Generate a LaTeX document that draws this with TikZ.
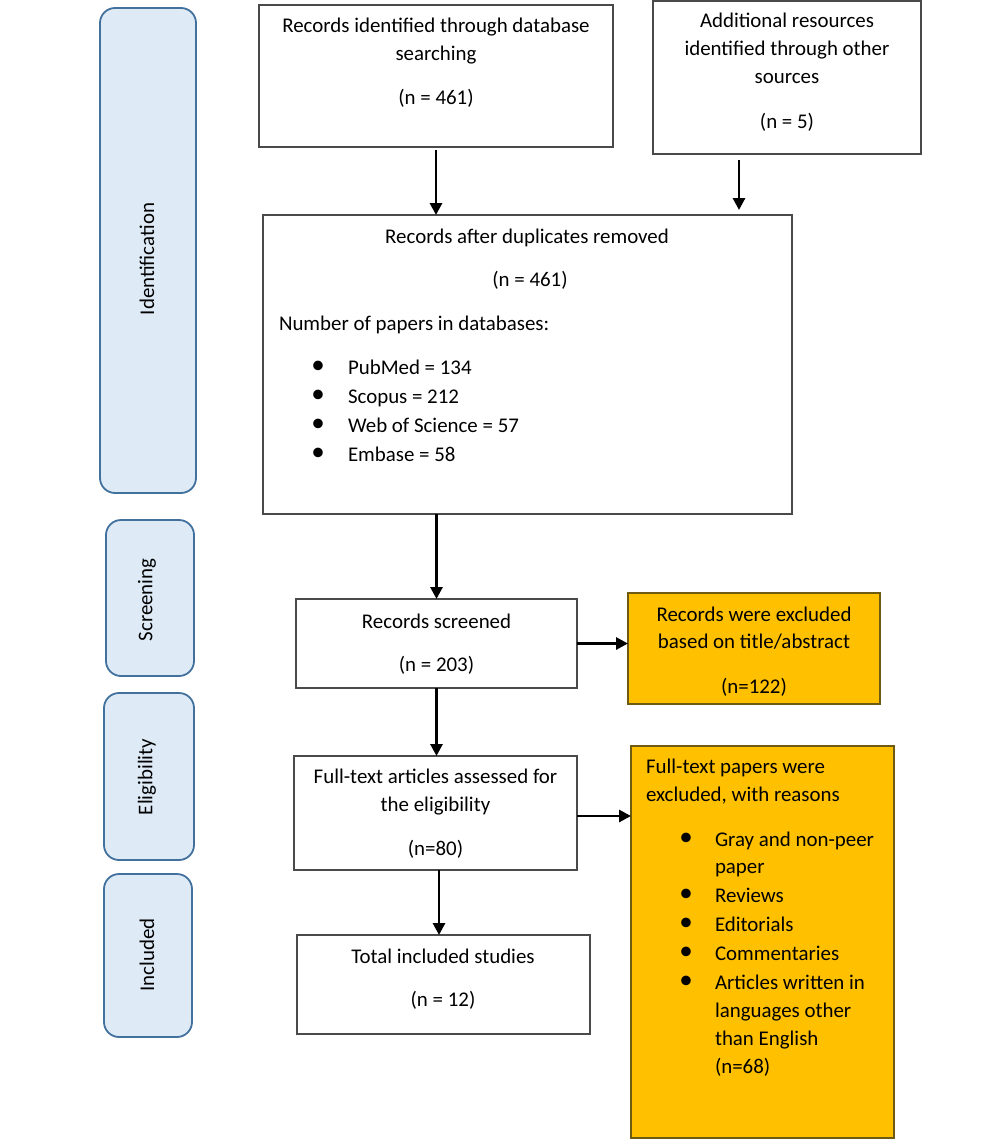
\documentclass[tikz,border=0pt]{standalone}
\usepackage{fontspec}
\setmainfont{Carlito}
\usetikzlibrary{arrows.meta,calc}
\definecolor{sidefill}{HTML}{DEEBF7}
\definecolor{sidedraw}{HTML}{41719C}
\definecolor{boxdraw}{HTML}{4A4A4A}
\definecolor{yfill}{HTML}{FFC000}
\definecolor{ydraw}{HTML}{6E5A10}
\newcommand{\fs}{\fontsize{20.9}{28}\selectfont}
\newcommand{\bul}{{\fontsize{27}{28}\selectfont\textbullet}}
\tikzset{
  sidebox/.style={draw=sidedraw, fill=sidefill, line width=1.8pt, rounded corners=15pt, inner sep=0, outer sep=0},
  wbox/.style={draw=boxdraw, fill=white, line width=1.4pt, inner sep=0, outer sep=0},
  ybox/.style={draw=ydraw, fill=yfill, line width=1.4pt, inner sep=0, outer sep=0},
  txt/.style={inner sep=0, outer sep=0, anchor=base, font=\fs},
  ltxt/.style={inner sep=0, outer sep=0, anchor=base west, font=\fs},
  bl/.style={inner sep=0, outer sep=0, anchor=center},
  sidetxt/.style={inner sep=0, rotate=90, font=\fs},
  arr/.style={line width=2.9pt, -{Triangle[length=12pt,width=12pt]}}
}
\begin{document}
\begin{tikzpicture}[x=1pt,y=-1pt]
\useasboundingbox[fill=white] (0,0) rectangle (1000,1140);
% side boxes
\node[sidebox, minimum width=96pt, minimum height=485pt] (sid) at (148,250.5) {};
\node[sidetxt] (sidt) at (147,259) {Identification};
\node[sidebox, minimum width=88pt, minimum height=156pt] (sscr) at (150,598) {};
\node[sidetxt] (sscrt) at (147,600) {Screening};
\node[sidebox, minimum width=90pt, minimum height=167pt] (selg) at (149,776.5) {};
\node[sidetxt] (selgt) at (147,777) {Eligibility};
\node[sidebox, minimum width=88pt, minimum height=163pt] (sinc) at (148,955.5) {};
\node[sidetxt] (sinct) at (147,955) {Included};
% main boxes
\node[wbox, minimum width=354pt, minimum height=142pt] (b1) at (436,76) {};
\node[txt] (b1a) at (436,33) {Records identified through database};
\node[txt] (b1b) at (436,61) {searching};
\node[txt] (b1c) at (436,104) {(n = 461)};
\node[wbox, minimum width=268pt, minimum height=153pt] (b2) at (787,77.5) {};
\node[txt] (b2a) at (787,28) {Additional resources};
\node[txt] (b2b) at (787,56) {identified through other};
\node[txt] (b2c) at (787,83) {sources};
\node[txt] (b2d) at (787,128) {(n = 5)};
\node[wbox, minimum width=529pt, minimum height=299pt] (dup) at (527.5,364.5) {};
\node[txt] (dupa) at (527,243) {Records after duplicates removed};
\node[txt] (dupb) at (530,286) {(n = 461)};
\node[ltxt] (dupc) at (279,330) {Number of papers in databases:};
\node[bl] (dbu1) at (318,367) {\bul};
\node[ltxt] (dup1) at (348,374) {PubMed = 134};
\node[bl] (dbu2) at (318,396) {\bul};
\node[ltxt] (dup2) at (348,403) {Scopus = 212};
\node[bl] (dbu3) at (318,425) {\bul};
\node[ltxt] (dup3) at (348,432) {Web of Science = 57};
\node[bl] (dbu4) at (318,454) {\bul};
\node[ltxt] (dup4) at (348,461) {Embase = 58};
\node[wbox, minimum width=281pt, minimum height=89pt] (scr) at (436.5,643.5) {};
\node[txt] (scra) at (436.5,628) {Records screened};
\node[txt] (scrb) at (436.5,671) {(n = 203)};
\node[wbox, minimum width=283pt, minimum height=114pt] (elg) at (435.5,813) {};
\node[txt] (elga) at (435.5,783) {Full-text articles assessed for};
\node[txt] (elgb) at (435.5,811) {the eligibility};
\node[txt] (elgc) at (435.5,855) {(n=80)};
\node[wbox, minimum width=293pt, minimum height=99pt] (inc) at (443.5,984.5) {};
\node[txt] (inca) at (443,963) {Total included studies};
\node[txt] (incb) at (443,1006) {(n = 12)};
\node[ybox, minimum width=252pt, minimum height=111pt] (ex1) at (754,648.5) {};
\node[txt] (ex1a) at (754,621) {Records were excluded};
\node[txt] (ex1b) at (754,648) {based on title/abstract};
\node[txt] (ex1c) at (754,693) {(n=122)};
\node[ybox, minimum width=263pt, minimum height=392pt] (ex2) at (762.5,942) {};
\node[ltxt] (ex2a) at (646,773) {Full-text papers were};
\node[ltxt] (ex2b) at (646,801) {excluded, with reasons};
\node[bl] (ebu1) at (686,839) {\bul};
\node[ltxt] (ex2c) at (715,846) {Gray and non-peer};
\node[ltxt] (ex2d) at (715,873) {paper};
\node[bl] (ebu2) at (686,895) {\bul};
\node[ltxt] (ex2e) at (715,902) {Reviews};
\node[bl] (ebu3) at (686,924) {\bul};
\node[ltxt] (ex2f) at (715,931) {Editorials};
\node[bl] (ebu4) at (686,953) {\bul};
\node[ltxt] (ex2g) at (715,960) {Commentaries};
\node[bl] (ebu5) at (686,982) {\bul};
\node[ltxt] (ex2h) at (715,989) {Articles written in};
\node[ltxt] (ex2i) at (715,1017) {languages other};
\node[ltxt] (ex2j) at (715,1045) {than English};
\node[ltxt] (ex2k) at (715,1073) {(n=68)};
% connectors
\coordinate (c2) at (739,0);
\coordinate (c5) at (439,0);
\draw[arr, shorten <=3pt] (b1.south) -- (b1.south |- dup.north);
\draw[arr, shorten <=6pt, shorten >=5pt] (b2.south -| c2) -- (dup.north -| c2);
\draw[arr] (scr.north |- dup.south) -- (scr.north);
\draw[arr] (scr.south) -- (scr.south |- elg.north);
\draw[arr] (elg.south -| c5) -- (inc.north -| c5);
\draw[arr] (scr.east) -- (scr.east -| ex1.west);
\draw[arr] ([yshift=-3pt]elg.east) -- ([yshift=-3pt]elg.east -| ex2.west);
\end{tikzpicture}
\end{document}
